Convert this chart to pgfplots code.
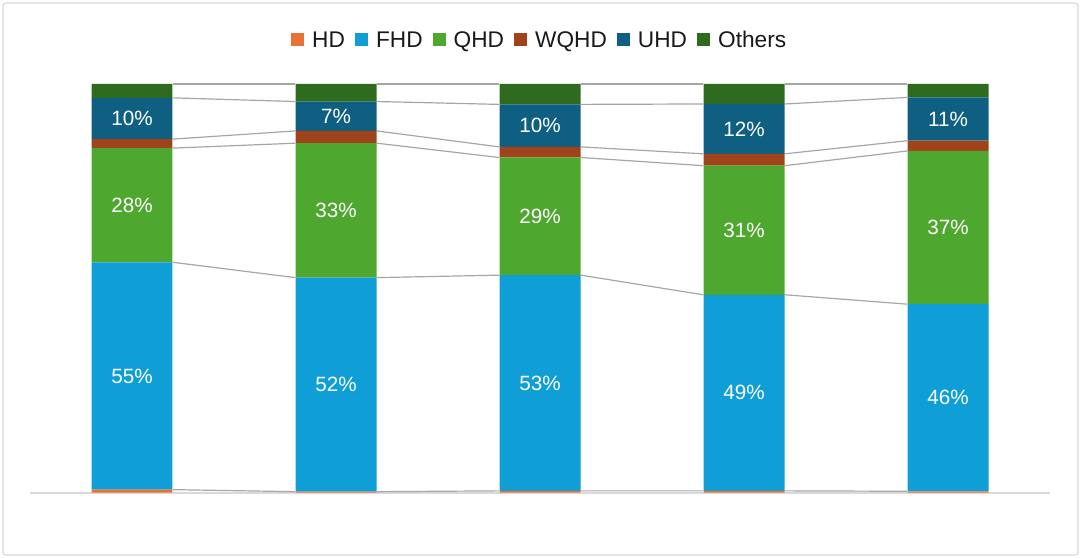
\documentclass[border=0pt]{standalone}
\usepackage{pgfplots}
\pgfplotsset{compat=1.18}
\usepackage{pgfplotstable}
\usepackage{fontspec}
\setmainfont{Liberation Sans}

\definecolor{cHD}{HTML}{E97132}
\definecolor{cFHD}{HTML}{0F9ED5}
\definecolor{cQHD}{HTML}{4EA72E}
\definecolor{cWQHD}{HTML}{A0431A}
\definecolor{cUHD}{HTML}{0E5F82}
\definecolor{cOth}{HTML}{2F6B1F}
\definecolor{cLine}{HTML}{A6A6A6}

% segment shares (%)
\pgfplotstableread{
x HD FHD QHD WQHD UHD Others
0 0.7 55.65 27.95 2.2 10.1 3.4
1 0.2 52.4 32.9 3.0 7.2 4.3
2 0.4 52.8 28.8 2.6 10.4 5.0
3 0.4 48.0 31.6 2.9 12.2 4.9
4 0.3 45.8 37.5 2.5 10.6 3.3
}\shares

% label positions (middle of segment) and texts
\pgfplotstableread{
x y label
0 28.53 55\%
1 26.40 52\%
2 26.80 53\%
3 24.40 49\%
4 23.20 46\%
0 70.33 28\%
1 69.05 33\%
2 67.60 29\%
3 64.20 31\%
4 64.85 37\%
0 91.55 10\%
1 92.10 7\%
2 89.80 10\%
3 89.00 12\%
4 91.40 11\%
}\labels

\begin{document}
\begin{tikzpicture}
\path[use as bounding box] (0,0) rectangle (810pt,417.75pt);
\draw[black!15, line width=0.8pt, rounded corners=2pt] (2.25pt,1.5pt) rectangle (808.5pt,415.5pt);

\begin{axis}[
  at={(22.5pt,48.375pt)}, anchor=south west,
  scale only axis, width=765pt, height=306.4pt,
  xmin=-0.5, xmax=4.5, ymin=0, ymax=100,
  ybar stacked, bar width=0.397,
  axis x line=bottom, axis y line=none,
  x axis line style={draw=black!15, line width=1.5pt, -},
  xtick=\empty, ytick=\empty,
  clip=false,
  legend columns=-1,
  legend style={at={(0.5,1.104)}, anchor=center, draw=none, fill=none,
    font=\fontsize{17}{20}\selectfont, text=black!90,
    nodes={text height=12.2pt, text depth=3.6pt},
    /tikz/every even column/.append style={column sep=5.5pt},
    /tikz/every odd column/.append style={column sep=4pt}},
  legend image code/.code={\fill[#1] (0pt,-3.2pt) rectangle (9.8pt,6.6pt);},
]
\addplot[fill=cHD, draw=none] table[x=x, y=HD] {\shares};
\addlegendentry{HD}
\addplot[fill=cFHD, draw=none] table[x=x, y=FHD] {\shares};
\addlegendentry{FHD}
\addplot[fill=cQHD, draw=none] table[x=x, y=QHD] {\shares};
\addlegendentry{QHD}
\addplot[fill=cWQHD, draw=none] table[x=x, y=WQHD] {\shares};
\addlegendentry{WQHD}
\addplot[fill=cUHD, draw=none] table[x=x, y=UHD] {\shares};
\addlegendentry{UHD}
\addplot[fill=cOth, draw=none] table[x=x, y=Others] {\shares};
\addlegendentry{Others}
\end{axis}

\begin{axis}[
  at={(22.5pt,48.375pt)}, anchor=south west,
  scale only axis, width=765pt, height=306.4pt,
  xmin=-0.5, xmax=4.5, ymin=0, ymax=100,
  axis lines=none, xtick=\empty, ytick=\empty,
  clip=false, unbounded coords=jump,
]
% series lines (cumulative tops), right edge of a bar to left edge of the next
\addplot[cLine, line width=0.9pt, mark=none] coordinates {(0.2,0.7) (0.8,0.2) (1,nan) (1.2,0.2) (1.8,0.4) (2,nan) (2.2,0.4) (2.8,0.4) (3,nan) (3.2,0.4) (3.8,0.3)};
\addplot[cLine, line width=0.9pt, mark=none] coordinates {(0.2,56.35) (0.8,52.6) (1,nan) (1.2,52.6) (1.8,53.2) (2,nan) (2.2,53.2) (2.8,48.4) (3,nan) (3.2,48.4) (3.8,46.1)};
\addplot[cLine, line width=0.9pt, mark=none] coordinates {(0.2,84.3) (0.8,85.5) (1,nan) (1.2,85.5) (1.8,82.0) (2,nan) (2.2,82.0) (2.8,80.0) (3,nan) (3.2,80.0) (3.8,83.6)};
\addplot[cLine, line width=0.9pt, mark=none] coordinates {(0.2,86.5) (0.8,88.5) (1,nan) (1.2,88.5) (1.8,84.6) (2,nan) (2.2,84.6) (2.8,82.9) (3,nan) (3.2,82.9) (3.8,86.1)};
\addplot[cLine, line width=0.9pt, mark=none] coordinates {(0.2,96.6) (0.8,95.7) (1,nan) (1.2,95.7) (1.8,95.0) (2,nan) (2.2,95.0) (2.8,95.1) (3,nan) (3.2,95.1) (3.8,96.7)};
\addplot[cLine, line width=0.9pt, mark=none] coordinates {(0.2,100) (0.8,100) (1,nan) (1.2,100) (1.8,100) (2,nan) (2.2,100) (2.8,100) (3,nan) (3.2,100) (3.8,100)};
% data labels
\addplot[draw=none, mark=none, nodes near coords, point meta=explicit symbolic,
  nodes near coords style={anchor=center, text=white, font=\fontsize{15.5}{18}\selectfont}]
  table[x=x, y=y, meta=label] {\labels};
\end{axis}
\end{tikzpicture}
\end{document}
